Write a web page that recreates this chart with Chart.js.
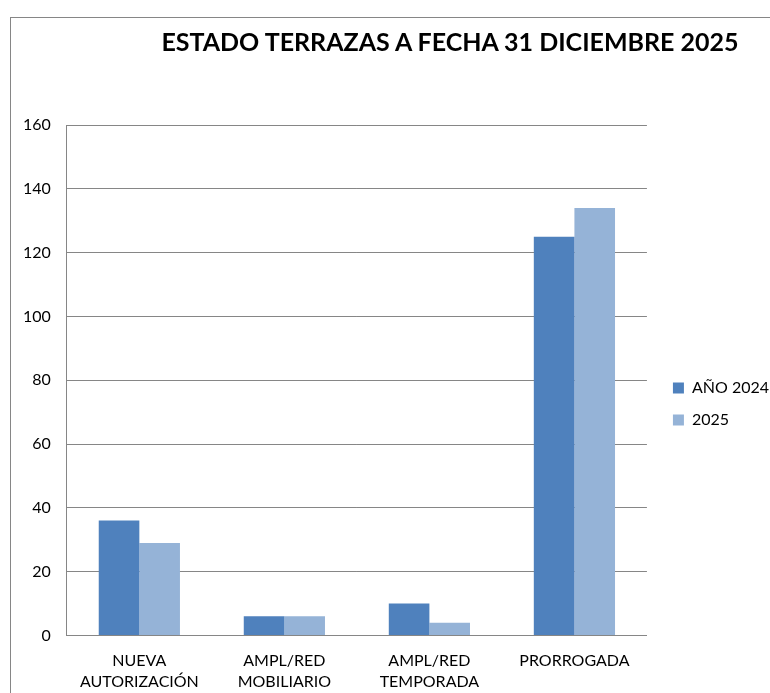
<!DOCTYPE html>
<html>
<head>
<meta charset="utf-8">
<script src="https://cdn.jsdelivr.net/npm/chart.js@4"></script>
<style>
    body { margin: 0; background: #fff; }
    #wrap { position: relative; width: 770px; height: 693px; overflow: hidden; }
    #frame { position: absolute; left: 10px; top: 17px; width: 900px; height: 900px; border: 1px solid #868686; }
    #title { position: absolute; left: 150px; top: 26px; width: 600px; text-align: center;
             font: bold 25px Lato, sans-serif; color: #000; white-space: nowrap; }
    #cnv { position: absolute; left: 0; top: 0; }
</style>
</head>
<body>
<div id="wrap">
    <div id="frame"></div>
    <canvas id="cnv" width="770" height="693"></canvas>
    <div id="title">ESTADO TERRAZAS A FECHA 31 DICIEMBRE 2025</div>
</div>
<script>
var categories = [
    ['NUEVA', 'AUTORIZACIÓN'],
    ['AMPL/RED', 'MOBILIARIO'],
    ['AMPL/RED', 'TEMPORADA'],
    'PRORROGADA'
];
var seriesNames = ['AÑO 2024', '2025'];
var values2024 = [36, 6, 10, 125];
var values2025 = [29, 6, 4, 134];
var yTicks = [0, 20, 40, 60, 80, 100, 120, 140, 160];

var _font = 'Lato, sans-serif';

$ctx = document.getElementById('cnv').getContext('2d');

var _chart = new Chart($ctx, {
    type: 'bar',
    data: {
        labels: categories,
        datasets: [{
            label: seriesNames[0],
            data: values2024,
            backgroundColor: '#4F81BD'
        }, {
            label: seriesNames[1],
            data: values2025,
            backgroundColor: '#95B3D7'
        }]
    },
    options: {
        responsive: false,
        animation: false,
        layout: { padding: { top: 125, left: 7, right: -9, bottom: -14 } },
        datasets: { bar: { categoryPercentage: 0.56, barPercentage: 1 } },
        plugins: {
            title: { display: false },
            tooltip: { enabled: false },
            legend: {
                position: 'right',
                align: 'start',
                // empty spacer title pushes the two items down to the middle
                title: { display: true, text: ' ', font: { size: 10, lineHeight: 1.2 },
                         padding: { top: 0, bottom: 227 } },
                labels: {
                    boxWidth: 11, boxHeight: 11, padding: 16,
                    color: '#000', font: { family: _font, size: 16 }
                }
            }
        },
        scales: {
            x: {
                grid: { display: false, drawTicks: false },
                border: { color: '#868686' },
                ticks: {
                    color: '#000', padding: 15, maxRotation: 0,
                    font: { family: _font, size: 16, lineHeight: 1.3 }
                }
            },
            y: {
                min: 0, max: 160,
                afterBuildTicks: function (axis) {
                    axis.ticks = yTicks.map(function (v) { return { value: v }; });
                },
                grid: { color: '#868686', drawTicks: false },
                border: { color: '#868686' },
                ticks: {
                    color: '#000', padding: 16,
                    font: { family: _font, size: 16 }
                }
            },
            // blank gap between plot and legend
            gap: {
                position: 'right',
                grid: { display: false, drawTicks: false },
                border: { display: false },
                ticks: { display: false },
                afterFit: function (scale) { scale.width = 10; }
            }
        }
    }
});
</script>
</body>
</html>
